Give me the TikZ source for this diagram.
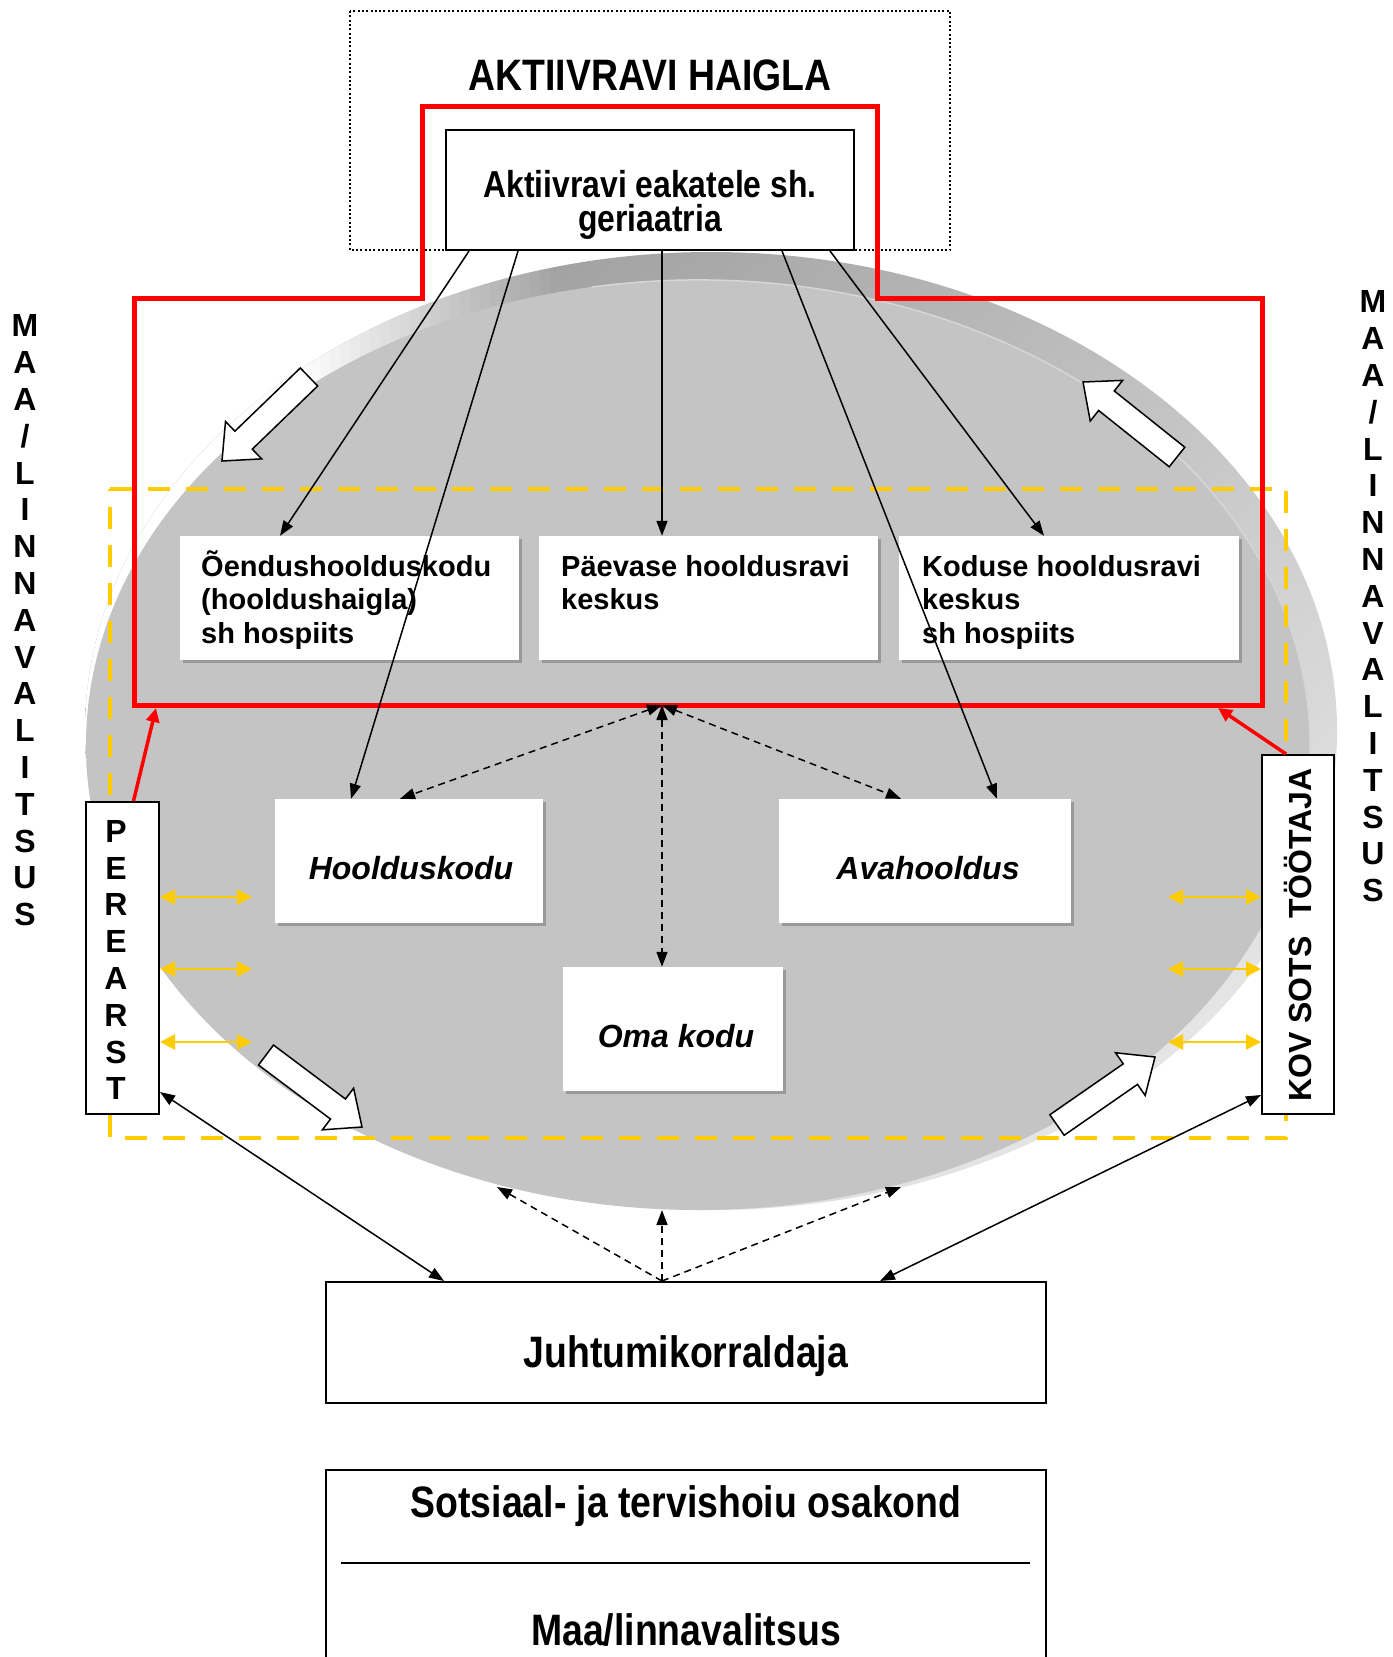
\documentclass[tikz,border=0pt]{standalone}
\usepackage{fontspec}
\setmainfont{Liberation Sans}
\newfontfamily\narrowfont{Liberation Sans}[FakeStretch=0.85]
\usetikzlibrary{arrows.meta,calc,shadows,shadings}
\definecolor{ellin}{HTML}{C4C4C4}
\definecolor{ellUL}{HTML}{8E8E8E}
\definecolor{ellUR}{HTML}{C2C2C2}
\definecolor{ellLL}{HTML}{C4C4C4}
\definecolor{ellLR}{HTML}{F4F4F4}
\definecolor{ellrim}{HTML}{D6D6D6}
\definecolor{yell}{HTML}{FFCC00}
\definecolor{redl}{HTML}{FF0000}
\definecolor{shadowgray}{HTML}{999999}

\newcommand{\mkblockarrow}[3]{%
  \coordinate (#1-t) at #2;
  \coordinate (#1-p) at #3;
  \coordinate (#1-b) at ($(#1-p)!30pt!(#1-t)$);
  \draw[blockarr] ($(#1-t)!12.5pt!90:(#1-p)$) -- ($(#1-b)!12.5pt!90:(#1-p)$)
     -- ($(#1-b)!26pt!90:(#1-p)$) -- (#1-p) -- ($(#1-b)!26pt!-90:(#1-p)$)
     -- ($(#1-b)!12.5pt!-90:(#1-p)$) -- ($(#1-t)!12.5pt!-90:(#1-p)$) -- cycle;
}

\begin{document}
\begin{tikzpicture}[x=1pt,y=-1pt,
  framebox/.style={draw=black,line width=2pt,fill=white,inner sep=0pt},
  whitebox/.style={fill=white,inner sep=0pt,drop shadow={shadow xshift=3pt,shadow yshift=-3pt,fill=shadowgray,opacity=1}},
  bigtext/.style={inner sep=0pt,font=\narrowfont\bfseries\fontsize{44}{50}\selectfont},
  akttext/.style={inner sep=0pt,align=center,font=\narrowfont\bfseries\fontsize{37.5}{34}\selectfont},
  boxtext/.style={inner sep=0pt,align=left,anchor=north west,font=\bfseries\fontsize{29}{33.4}\selectfont},
  ittext/.style={inner sep=0pt,anchor=base,font=\bfseries\itshape\fontsize{32}{38}\selectfont},
  lettertext/.style={inner sep=0pt,align=center,font=\bfseries\fontsize{32}{36.8}\selectfont},
  arr/.style={line width=1.5pt,-{Triangle[length=15pt,width=11pt]}},
  darr/.style={line width=1.5pt,{Triangle[length=15pt,width=11pt]}-{Triangle[length=15pt,width=11pt]}},
  ddarr/.style={line width=1.5pt,dash pattern=on 7pt off 5pt,{Triangle[length=15pt,width=11pt]}-{Triangle[length=15pt,width=11pt]}},
  dsarr/.style={line width=1.5pt,dash pattern=on 7pt off 5pt,-{Triangle[length=15pt,width=11pt]}},
  rarr/.style={draw=redl,line width=3.5pt,-{Triangle[length=14pt,width=13pt]}},
  yarr/.style={draw=yell,line width=2.5pt,{Triangle[length=15pt,width=15pt]}-{Triangle[length=15pt,width=15pt]}},
  blockarr/.style={draw=black,line width=1.5pt,fill=white,line join=miter},
  redline/.style={draw=redl,line width=5pt,line join=miter},
  yellline/.style={draw=yell,line width=4.5pt,dash pattern=on 22pt off 16pt},
  dotline/.style={draw=black,line width=2pt,dash pattern=on 2pt off 2.3pt}
]
\useasboundingbox (0,0) rectangle (1392,1657);
\fill[white] (0,0) rectangle (1392,1657);

% ellipse: shaded rim, faded out on the left, flat inner disc
\shade[upper left=ellUL,upper right=ellUR,lower left=ellLL,lower right=ellLR] (711,731) ellipse [x radius=626,y radius=479];
\begin{scope}
  \clip (711,731) ellipse [x radius=626,y radius=479];
  \fill[white] (70,240) rectangle (300,1000);
  \foreach \k in {0,...,25} {
    \pgfmathsetmacro{\op}{1-(\k+0.5)/26}
    \fill[white,opacity=\op] (300+10*\k,240) rectangle (310+10*\k,820);
  }
\end{scope}
\fill[ellin] (698,745) ellipse [x radius=612,y radius=465];
\draw[ellrim,line width=1.5pt] (698,745) ++(-100:612 and 465) arc [start angle=-100,end angle=20,x radius=612,y radius=465];

% dotted hospital frame
\draw[dotline] (350,11) rectangle (950,250);
\node[bigtext,anchor=base] (tAH) at (650,90) {AKTIIVRAVI HAIGLA};

% yellow dashed frame
\draw[yellline] (110,489) -- (1286,489) -- (1286,1138) -- (110,1138) -- cycle;

% red outline
\draw[redline] (422,298) -- (422,106) -- (877,106) -- (877,298) -- (1262,298) -- (1262,705) -- (134,705) -- (134,298) -- cycle;

% boxes
\node[framebox,minimum width=408pt,minimum height=120pt] (akt) at (650,190) {};
\node[akttext,anchor=north] (aktT) at (650,169) {\rule{0pt}{28pt}Aktiivravi eakatele sh.\\geriaatria};

\node[whitebox,minimum width=339pt,minimum height=124pt] (oend) at (349.5,598) {};
\node[whitebox,minimum width=339pt,minimum height=124pt] (paev) at (708.5,598) {};
\node[whitebox,minimum width=340pt,minimum height=124pt] (kod) at (1069,598) {};
\node[boxtext] (oendT) at (201,548) {\rule{0pt}{28pt}Õendushoolduskodu\\(hooldushaigla)\\sh hospiits};
\node[boxtext] (paevT) at (561,548) {\rule{0pt}{28pt}Päevase hooldusravi\\keskus};
\node[boxtext] (kodT) at (922,548) {\rule{0pt}{28pt}Koduse hooldusravi\\keskus\\sh hospiits};

\node[whitebox,minimum width=268pt,minimum height=124pt] (hool) at (409,861) {};
\node[whitebox,minimum width=292pt,minimum height=124pt] (ava) at (925,861) {};
\node[whitebox,minimum width=220pt,minimum height=124pt] (oma) at (673,1029) {};
\node[ittext] (hoolT) at (411,879) {Hoolduskodu};
\node[ittext] (avaT) at (928,879) {Avahooldus};
\node[ittext] (omaT) at (676,1047) {Oma kodu};

\node[framebox,minimum width=73pt,minimum height=312pt] (per) at (122.5,958) {};
\node[lettertext] (perT) at (116,960) {P\\E\\R\\E\\A\\R\\S\\T};
\node[framebox,minimum width=72pt,minimum height=359pt] (kov) at (1298,934.5) {};
\node[inner sep=0pt,rotate=90,font=\bfseries\fontsize{32}{38}\selectfont] (kovT) at (1298,935) {KOV SOTS\ \ TÖÖTAJA};

\node[framebox,minimum width=720pt,minimum height=121pt] (juht) at (686,1342.5) {};
\node[bigtext,anchor=base] (juhtT) at (686,1367) {Juhtumikorraldaja};

\draw[line width=2pt,fill=white] (326,1700) -- (326,1470) -- (1046,1470) -- (1046,1700);
\draw[line width=2pt] (341,1563) -- (1030,1563);
\node[bigtext,anchor=base] (sotsT) at (686,1517) {Sotsiaal- ja tervishoiu osakond};
\node[bigtext,anchor=base] (maaT) at (686,1645) {Maa/linnavalitsus};

% side labels
\node[lettertext] (mlL) at (25,620.5) {M\\A\\A\\/\\L\\I\\N\\N\\A\\V\\A\\L\\I\\T\\S\\U\\S};
\node[lettertext] (mlR) at (1373,596.5) {M\\A\\A\\/\\L\\I\\N\\N\\A\\V\\A\\L\\I\\T\\S\\U\\S};

% arrows from hospital
\draw[arr] ([xshift=-181pt]akt.south) -- ([xshift=-69.5pt]oend.north);
\draw[arr] ([xshift=-132pt]akt.south) -- ([xshift=-58pt]hool.north);
\draw[arr] ([xshift=12pt]akt.south) -- ([xshift=-46.5pt]paev.north);
\draw[arr] ([xshift=132pt]akt.south) -- ([xshift=72pt]ava.north);
\draw[arr] ([xshift=180pt]akt.south) -- ([xshift=-25pt]kod.north);

% dashed hub arrows
\coordinate (hub) at (662,705);
\draw[ddarr] (hub) -- ([xshift=-9pt]hool.north);
\draw[ddarr] (hub) -- ([xshift=-24pt]ava.north);
\draw[ddarr] (hub) -- ([xshift=-11pt]oma.north);

% case manager arrows
\coordinate (eL) at (497,1187);
\coordinate (eM) at (662,1210);
\coordinate (eR) at (901,1187);
\draw[dsarr] ([xshift=-24pt]juht.north) -- (eL);
\draw[dsarr] ([xshift=-24pt]juht.north) -- (eM);
\draw[dsarr] ([xshift=-24pt]juht.north) -- (eR);
\draw[darr] ([yshift=23pt]per.south east) -- ([xshift=-242pt]juht.north);
\draw[darr] ([yshift=20pt]kov.south west) -- ([xshift=194pt]juht.north);

% red arrows
\coordinate (rL) at (156,708);
\coordinate (rR) at (1218,708);
\draw[rarr] ([xshift=11pt]per.north) -- (rL);
\draw[rarr] ([xshift=-12pt]kov.north) -- (rR);

% yellow arrows
\foreach \yy [count=\i] in {897,969,1042} {
  \coordinate (yl\i) at (252,\yy);
  \coordinate (yr\i) at (1168,\yy);
  \draw[yarr] (per.east |- yl\i) -- (yl\i);
  \draw[yarr] (yr\i) -- (kov.west |- yr\i);
}

% block arrows
\mkblockarrow{ul}{(309,377)}{(222,461)}
\mkblockarrow{ur}{(1177,457)}{(1083,382)}
\mkblockarrow{ll}{(266,1055)}{(362,1127)}
\mkblockarrow{lr}{(1057,1125)}{(1155,1057)}
\end{tikzpicture}
\end{document}
